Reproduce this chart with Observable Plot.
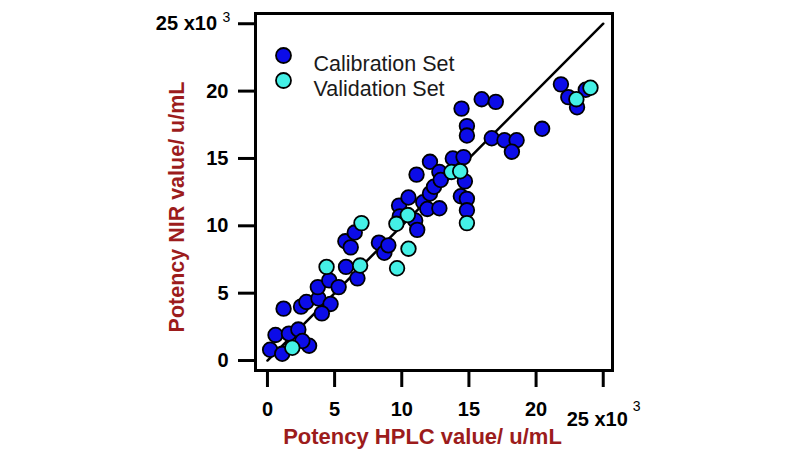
<!DOCTYPE html>
<html><head><meta charset="utf-8">
<script src="https://cdn.jsdelivr.net/npm/d3@7"></script>
<script src="https://cdn.jsdelivr.net/npm/@observablehq/plot@0.6"></script>
<style>body{margin:0;background:#fff;}</style>
</head><body><div id="chart"></div>
<script>
// values in thousands (x10^3 u/mL)
const calibrationX = [0.2,1.1,3.1,0.6,1.6,2.3,2.6,1.2,2.5,2.9,3.8,4.7,4.05,3.75,4.6,5.3,6.7,5.85,5.8,6.2,6.5,8.3,8.7,9.0,9.8,9.85,10.5,11.0,11.15,11.6,11.9,12.8,12.1,12.4,11.1,12.1,12.8,12.9,13.8,14.6,14.7,14.4,14.85,14.85,14.45,15.95,17.0,14.85,14.85,16.7,17.65,18.55,18.2,20.45,21.85,22.4,23.05,23.7];
const calibrationY = [0.8,0.5,1.1,1.9,2.0,2.3,1.45,3.85,4.0,4.35,4.6,4.2,3.5,5.45,5.95,5.45,6.1,6.95,8.85,8.4,9.5,8.75,8.0,8.55,11.5,10.7,12.1,10.4,9.7,11.75,11.25,11.3,12.4,12.9,13.8,14.75,14.0,13.4,15.0,15.1,13.3,12.2,12.0,11.15,18.7,19.4,19.2,17.4,16.7,16.5,16.35,16.35,15.5,17.2,20.5,19.55,18.8,20.1];
const validationX = [1.85,4.4,6.9,7.0,9.65,10.5,9.6,10.45,14.85,13.7,14.35,23.0,24.05];
const validationY = [0.95,6.95,7.05,10.2,6.85,8.3,10.15,10.8,10.2,14.0,14.05,19.4,20.25];
const lineValues = [0, 25];
const tickValues = [0, 5, 10, 15, 20, 25];
const lastTickLabel = "25 x10";
const exponentLabel = "3";
const legendLabels = ["Calibration Set", "Validation Set"];
const xLabel = "Potency HPLC value/ u/mL";
const yLabel = "Potency NIR value/ u/mL";

const calColor = "#0c0ce8", valColor = "#44f0e6", labelColor = "#9c1c1c";
const cal = calibrationX.map((x, i) => ({x, y: calibrationY[i]}));
const val = validationX.map((x, i) => ({x, y: validationY[i]}));
const diag = lineValues.map(v => ({x: v, y: v}));
const font = {fontSize: 20, fontWeight: "bold", fill: "#000"};
const lastTick = tickValues[tickValues.length - 1];

const chart = Plot.plot({
  width: 800, height: 458,
  marginLeft: 255, marginRight: 188, marginTop: 13, marginBottom: 88,
  x: {domain: [-0.89, 25.69]},
  y: {domain: [-0.74, 25.76]},
  style: {fontFamily: "'Liberation Sans', Arial, sans-serif", background: "#fff"},
  marks: [
    Plot.axisX({ticks: tickValues, tickFormat: d => d === lastTick ? "" : String(d), tickSize: 17, tickPadding: 14, strokeWidth: 3, label: null, ...font}),
    Plot.axisX({ticks: [lastTick], tickFormat: () => lastTickLabel, tickSize: 0, tickPadding: 41, dx: -6, label: null, ...font}),
    Plot.text([lastTick], {x: d => d, text: () => exponentLabel, frameAnchor: "bottom", dx: 29.5, dy: 40, textAnchor: "start", fontSize: 14, fill: "#000"}),
    Plot.axisY({ticks: tickValues, tickFormat: d => d === lastTick ? "" : String(d), tickSize: 17, tickPadding: 10, strokeWidth: 3, label: null, ...font}),
    Plot.axisY({ticks: [lastTick], tickFormat: () => lastTickLabel, tickSize: 0, tickPadding: 38.5, label: null, ...font}),
    Plot.text([lastTick], {y: d => d, text: () => exponentLabel, frameAnchor: "left", dx: -33, dy: -6, textAnchor: "start", fontSize: 14, fill: "#000"}),
    Plot.line(diag, {x: "x", y: "y", stroke: "#000", strokeWidth: 2.5}),
    Plot.dot(cal, {x: "x", y: "y", r: 7.3, fill: calColor, stroke: "#000", strokeWidth: 1.8}),
    Plot.dot(val, {x: "x", y: "y", r: 7.3, fill: valColor, stroke: "#000", strokeWidth: 1.8}),
    Plot.frame({stroke: "#000", strokeWidth: 3}),
    Plot.dot([legendLabels[0]], {frameAnchor: "top-left", dx: 28, dy: 42, r: 7.5, fill: calColor, stroke: "#000", strokeWidth: 1.8}),
    Plot.dot([legendLabels[1]], {frameAnchor: "top-left", dx: 28, dy: 67, r: 7.5, fill: valColor, stroke: "#000", strokeWidth: 1.8}),
    Plot.text([legendLabels[0]], {text: d => d, frameAnchor: "top-left", dx: 58, dy: 42, textAnchor: "start", fontSize: 21.5, fill: "#1a1a1a"}),
    Plot.text([legendLabels[1]], {text: d => d, frameAnchor: "top-left", dx: 58, dy: 67, textAnchor: "start", fontSize: 21.5, fill: "#1a1a1a"}),
    Plot.text([xLabel], {text: d => d, frameAnchor: "bottom", dx: -11.5, dy: 73, textAnchor: "middle", fontSize: 22, fontWeight: "bold", fill: labelColor}),
    Plot.text([yLabel], {text: d => d, frameAnchor: "left", dx: -78, dy: 15, textAnchor: "middle", rotate: -90, fontSize: 21.5, fontWeight: "bold", fill: labelColor})
  ]
});
document.getElementById("chart").append(chart);
</script>
</body></html>
